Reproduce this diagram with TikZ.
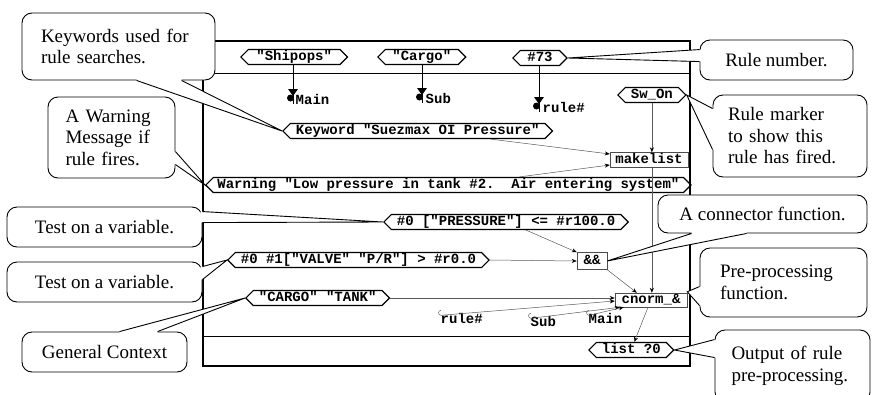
\documentclass[tikz,border=0pt]{standalone}
\usepackage{fontspec}
\setmainfont{Liberation Serif}
\setmonofont{Liberation Mono}
\usetikzlibrary{shapes.symbols,arrows.meta,calc}
\newcommand\ptr[4]{%
  \fill[white] (#1) -- (#2) -- (#3) -- ($(#3)+(#4)$) -- ($(#1)+(#4)$) -- cycle;
  \draw[cline] (#1) -- (#2) -- (#3);}
\begin{document}
\begin{tikzpicture}[x=1pt,y=-1pt,
  monofont/.style={font=\ttfamily\bfseries\fontsize{14}{14}\selectfont},
  tok/.style={monofont, signal, signal to=west and east, draw, line width=1.2pt,
    inner xsep=5.5pt, inner ysep=0pt, minimum height=15pt, text height=9pt,
    text depth=2pt, anchor=west},
  fbox/.style={monofont, draw=black!70, line width=0.5pt, fill=white,
    inner xsep=2pt, inner ysep=0pt, text height=9pt, text depth=2pt},
  lbl/.style={monofont, inner sep=0.5pt, text height=8pt, text depth=2pt, anchor=west},
  arr/.style={draw=black!65, line width=0.5pt, -{Stealth[length=5pt,width=4pt,black]}},
  pinline/.style={draw=black, line width=0.6pt},
  cline/.style={draw=black, line width=0.9pt},
  cbox/.style={draw, line width=0.9pt, fill=white, rounded corners=10pt,
    font=\fontsize{19}{21.5}\selectfont}]
\useasboundingbox (0,0) rectangle (874,394);
% frame
\draw[line width=1.5pt] (203,41) rectangle (690,366);
\draw[line width=0.7pt] (203,73) -- (690,73);
\draw[line width=0.7pt] (203,336) -- (690,336);
% tokens
\node[tok, inner xsep=8pt] (ship) at (240,57) {"Shipops"};
\node[tok, inner xsep=7pt] (cargo) at (377,57) {"Cargo"};
\node[tok, inner xsep=7pt] (r73) at (512,58) {\#73};
\node[tok] (swon) at (617,95) {Sw\_On};
\node[tok] (kw) at (282,131) {Keyword "Suezmax OI Pressure"};
\node[tok, inner xsep=4pt] (warn) at (205,185) {Warning "Low pressure in tank \#2.\ \ Air entering system"};
\node[tok] (pres) at (383,222) {\#0 ["PRESSURE"] <= \#r100.0};
\node[tok] (valve) at (227,260) {\#0 \#1["VALVE" "P/R"] > \#r0.0};
\node[tok] (ct) at (245,298) {"CARGO" "TANK"};
\node[tok] (lst) at (588,350) {list ?0};
% function boxes
\node[fbox, minimum width=78pt, minimum height=15pt] (mk) at (649,160) {makelist};
\node[fbox, minimum width=30pt, minimum height=17pt] (aa) at (592,261) {\&\&};
\node[fbox, minimum width=72pt, minimum height=14pt] (cn) at (651,300) {cnorm\_\&};
% top pin markers
\node[lbl] (tMain) at (295,101) {Main};
\node[lbl] (tSub) at (425,100) {Sub};
\node[lbl] (tRule) at (542,109) {rule\#};
\coordinate (pMain) at (293,104);
\coordinate (pSub) at (422,103);
\coordinate (pRule) at (539,112);
\draw[pinline] (ship.south -| pMain) -- (pMain);
\draw[pinline] (cargo.south -| pSub) -- (pSub);
\draw[pinline] (r73.south -| pRule) -- (pRule);
\foreach \p in {pMain,pSub,pRule}{
  \fill ($(\p)+(-5,-15)$) -- ($(\p)+(5,-15)$) -- ($(\p)+(0,-8)$) -- cycle;
  \fill ($(\p)+(-2.5,-6)$) circle (3.5pt);
}
% bottom labels with hooks
\node[lbl] (bRule) at (440,320) {rule\#};
\node[lbl] (bSub) at (530,323) {Sub};
\node[lbl] (bMain) at (588,320) {Main};
\foreach \n in {bRule,bSub,bMain}{
  \coordinate (h\n) at ($(\n.north west)+(1,1)$);
  \draw[black!60, line width=0.5pt] (h\n) arc[start angle=270, end angle=90, radius=2.5pt];
}
% connectors
\draw[arr] (swon.south) -- (swon.south |- mk.north);
\draw[arr] (mk.south -| swon.south) -- (swon.south |- cn.north);
\draw[arr] ($(kw.south)+(73,0)$) -- ($(mk.west)+(0,-6)$);
\draw[arr] ($(warn.north)+(71,0)$) -- ($(mk.west)+(0,5)$);
\draw[arr] ($(pres.south)+(20,0)$) -- (aa.north west);
\draw[arr] (valve.east) -- (aa.west);
\draw[arr] (aa.south east) -- ($(cn.north west)+(22,0)$);
\draw[arr] (ct.east) -- (ct.east -| cn.west);
\draw[arr] (hbRule) -- ($(cn.west)+(0,1)$);
\draw[arr] (hbSub) -- ($(cn.south west)+(5,0)$);
\draw[arr] (hbMain) -- ($(cn.south west)+(9,0)$);
\draw[arr] ($(cn.south)+(-3,0)$) -- ($(lst.north)+(3,0)$);
% callouts
\node[cbox, minimum width=193pt, minimum height=67pt, text width=155pt, inner xsep=19pt, align=left] (ckw) at (118.5,46.5) {Keywords used for\\rule searches.};
\coordinate (k1) at ($(ckw.south west)+(115,0)$);
\coordinate (k2) at ($(ckw.south west)+(160,0)$);
\ptr{k1}{kw.west}{k2}{0,-2}
\node[cbox, minimum width=127pt, minimum height=81pt, text width=92pt, inner xsep=17.5pt, align=left] (cwarn) at (111.5,137.5) {A Warning\\Message if\\rule fires.};
\coordinate (w1) at ($(cwarn.north east)+(0,55)$);
\coordinate (w2) at ($(cwarn.north east)+(0,68)$);
\ptr{w1}{warn.west}{w2}{-2,0}
\node[cbox, minimum width=153pt, minimum height=40pt] (crn) at (776.5,60) {Rule number.};
\coordinate (n1) at ($(crn.north west)+(0,10)$);
\coordinate (n2) at ($(crn.north west)+(0,22)$);
\ptr{n1}{r73.east}{n2}{2,0}
\node[cbox, minimum width=154pt, minimum height=82pt, text width=124pt, inner xsep=15pt, align=left] (crm) at (790,136) {Rule marker\\to show this\\rule has fired.};
\coordinate (m1) at ($(crm.north west)+(0,14)$);
\coordinate (m2) at ($(crm.north west)+(0,55)$);
\ptr{m1}{swon.east}{m2}{2,0}
\node[cbox, minimum width=195pt, minimum height=40pt] (ct1) at (104.5,227) {Test on a variable.};
\coordinate (a1) at ($(ct1.north east)+(0,5)$);
\coordinate (a2) at ($(ct1.north east)+(0,16)$);
\ptr{a1}{pres.west}{a2}{-2,0}
\node[cbox, minimum width=195pt, minimum height=40pt] (ct2) at (104.5,282) {Test on a variable.};
\coordinate (b1) at ($(ct2.north east)+(0,5)$);
\coordinate (b2) at ($(ct2.north east)+(0,18)$);
\ptr{b1}{valve.west}{b2}{-2,0}
\node[cbox, minimum width=165pt, minimum height=40pt] (cgc) at (104.5,352) {General Context};
\coordinate (g1) at ($(cgc.north west)+(98,0)$);
\coordinate (g2) at ($(cgc.north west)+(136,0)$);
\ptr{g1}{ct.west}{g2}{0,2}
\node[cbox, minimum width=209pt, minimum height=38pt] (ccf) at (762.5,214) {A connector function.};
\coordinate (f1) at ($(ccf.south west)+(34,0)$);
\coordinate (f2) at ($(ccf.south west)+(89,0)$);
\ptr{f1}{aa.east}{f2}{0,-2}
\node[cbox, minimum width=167pt, minimum height=69pt, text width=127pt, inner xsep=20pt, align=left] (cpp) at (783.5,282.5) {Pre-processing\\function.};
\coordinate (p1) at ($(cpp.north west)+(0,39)$);
\coordinate (p2) at ($(cpp.north west)+(0,58)$);
\coordinate (ptip) at ($(cn.north east)+(0,-1)$);
\ptr{p1}{ptip}{p2}{2,0}
\node[cbox, minimum width=155pt, minimum height=72pt, text width=122pt, inner xsep=16.5pt, align=left] (cout) at (792.5,366) {Output of rule\\pre-processing.};
\coordinate (o1) at ($(cout.north west)+(0,10)$);
\coordinate (o2) at ($(cout.north west)+(0,28)$);
\ptr{o1}{lst.east}{o2}{2,0}
\end{tikzpicture}
\end{document}
